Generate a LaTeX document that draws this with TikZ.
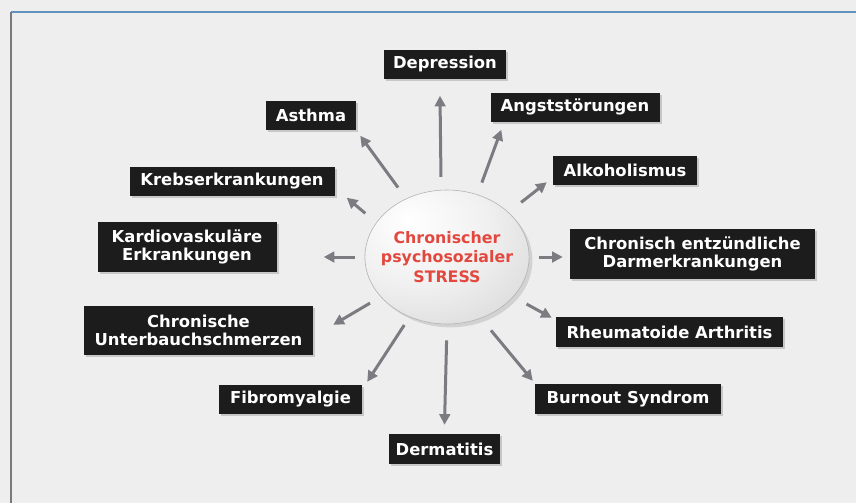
\documentclass[tikz,border=0pt]{standalone}
\usepackage{fontspec}
\setmainfont{DejaVu Sans}
\usepackage{tikz}
\usetikzlibrary{arrows.meta,calc,shadows,shapes.geometric}
\definecolor{paper}{RGB}{238,238,238}
\definecolor{boxblack}{RGB}{28,28,28}
\definecolor{arrowgray}{RGB}{125,123,130}
\definecolor{stressred}{RGB}{226,72,62}
\definecolor{frameblue}{RGB}{96,146,190}
\definecolor{framegray}{RGB}{120,120,125}
\pgfdeclareradialshading{stressshade}{\pgfpoint{-12bp}{14bp}}{%
  color(0bp)=(white); color(22bp)=(white!94!black); color(44bp)=(black!16);
  color(54bp)=(black!30); color(90bp)=(black!35)}

\begin{document}
\begin{tikzpicture}[
  x=0.3mm, y=-0.3mm,
  every node/.style={font=\fontsize{14}{15.6}\selectfont\bfseries},
  box/.style={fill=boxblack, text=white, align=center, minimum height=8.7mm, inner sep=0pt,
    drop shadow={opacity=0.35, shadow xshift=0.6mm, shadow yshift=-0.6mm}},
  twoline/.style={box, minimum height=15mm},
  stressnode/.style={ellipse, shading=stressshade, draw=black!30, line width=0.5pt,
    minimum width=48mm, minimum height=40.2mm, inner xsep=-2.4mm, inner ysep=0pt,
    text=stressred, align=center, font=\fontsize{13.5}{16.6}\selectfont\bfseries,
    drop shadow={opacity=0.25, shadow xshift=1mm, shadow yshift=-1mm}},
  arr/.style={-{Triangle[length=3.2mm,width=3.2mm]}, draw=arrowgray, line width=0.9mm}
]
% background and frame
\fill[paper] (0,0) rectangle (856,503);
\useasboundingbox (0,0) rectangle (856,503);
\draw[frameblue, line width=0.4mm] (11,12) -- (856,12);
\draw[framegray, line width=0.4mm] (11,12) -- (11,503);

\node[stressnode] (stress) at (447,257) {Chronischer\\psychosozialer\\STRESS};

\node[box, minimum width=36.6mm] (depression) at (445,64) {Depression};
\node[box, minimum width=27mm] (asthma) at (311,115) {Asthma};
\node[box, minimum width=50.7mm] (angst) at (575,107) {Angststörungen};
\node[box, minimum width=43.2mm] (alkohol) at (625,170.5) {Alkoholismus};
\node[box, minimum width=61.5mm] (krebs) at (232,181) {Krebserkrankungen};
\node[twoline, minimum width=53.7mm] (kardio) at (187,247) {Kardiovaskuläre\\Erkrankungen};
\node[twoline, minimum width=73.5mm] (darm) at (692.5,254) {Chronisch entzündliche\\Darmerkrankungen};
\node[twoline, minimum width=68.7mm, minimum height=14.7mm] (unterbauch) at (198.5,330.5) {Chronische\\Unterbauchschmerzen};
\node[box, minimum width=68.1mm, minimum height=9mm] (rheuma) at (669.5,332) {Rheumatoide Arthritis};
\node[box, minimum width=42.9mm] (fibro) at (290.5,399.5) {Fibromyalgie};
\node[box, minimum width=55.8mm, minimum height=9mm] (burnout) at (628,399) {Burnout Syndrom};
\node[box, minimum width=33.3mm, minimum height=9mm] (derma) at (444.5,449) {Dermatitis};

\draw[arr, shorten <=3.9mm] (stress.95) -- ($(depression.south)+(-5,17)$);
\draw[arr, shorten <=4.1mm] (stress.125.4) -- ($(asthma.south east)+(4,6)$);
\draw[arr, shorten <=3.8mm] (stress.64.7) -- ($(angst.south west)+(11,8)$);
\draw[arr, shorten <=4.8mm] (stress.36.5) -- ($(alkohol.south west)+(-6,-3)$);
\draw[arr, shorten <=4.3mm] (stress.154) -- ($(krebs.south east)+(12,2)$);
\draw[arr, shorten <=3mm] (stress.180) -- ($(kardio.east)+(47,10)$);
\draw[arr, shorten <=3mm] (stress.0) -- ($(darm.west)+(-7,3)$);
\draw[arr, shorten <=3.7mm] (stress.211.5) -- ($(unterbauch.north east)+(20,19)$);
\draw[arr, shorten <=4.5mm] (stress.-31) -- ($(rheuma.north west)+(-4,1)$);
\draw[arr, shorten <=2.9mm] (stress.238.3) -- ($(fibro.north east)+(5,-3)$);
\draw[arr, shorten <=4.7mm] (stress.-61.9) -- ($(burnout.north west)+(-2,-3)$);
\draw[arr, shorten <=4.8mm] (stress.-90) -- ($(derma.north)+(0,-9)$);
\end{tikzpicture}
\end{document}
